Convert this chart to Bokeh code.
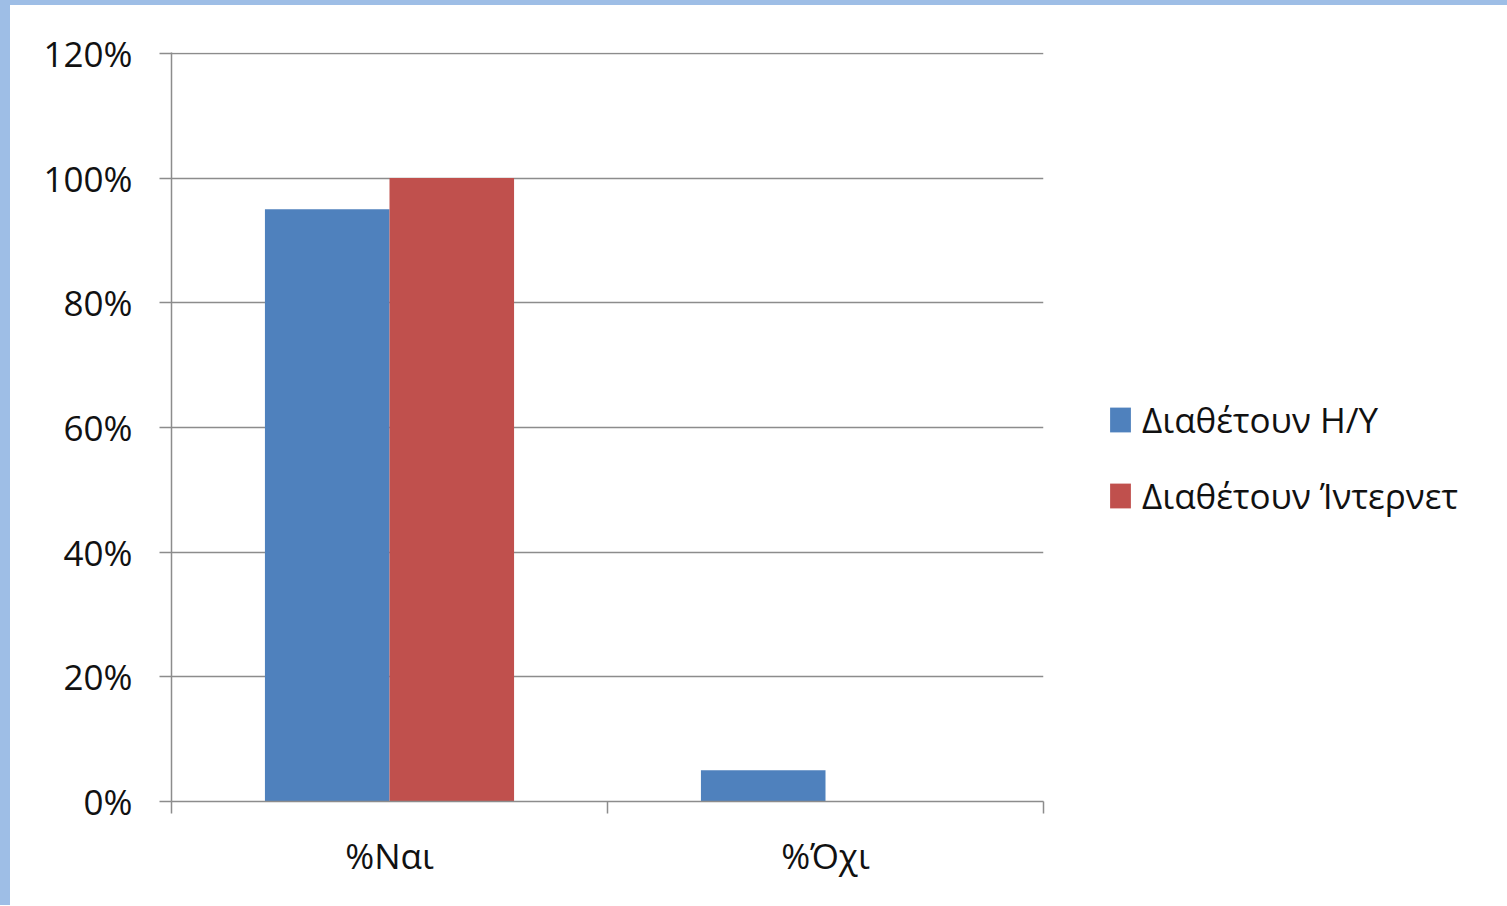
from bokeh.plotting import figure
from bokeh.models import (ColumnDataSource, FixedTicker, NumeralTickFormatter,
                          Legend, LegendItem, Range1d)
from bokeh.transform import dodge
from bokeh.embed import file_html
from bokeh.resources import INLINE

categories = ["%Ναι", "%Όχι"]
series_names = ["Διαθέτουν Η/Υ", "Διαθέτουν Ίντερνετ"]
pc_values = [0.95, 0.05]
internet_values = [1.00, 0.00]
y_ticks = [0, 0.2, 0.4, 0.6, 0.8, 1.0, 1.2]

BLUE = "#4F81BD"
RED = "#C0504D"
GRID = "#8c8c8c"
FONT = "Open Sans"
FS = "35px"

x_centers = [i + 0.5 for i in range(len(categories))]
src = ColumnDataSource(dict(x=x_centers, pc=pc_values, net=internet_values))

p = figure(frame_width=872, frame_height=749, output_backend="svg", toolbar_location=None,
           x_range=Range1d(0, len(categories)), y_range=Range1d(0, 1.2015),
           min_border_left=161, min_border_right=0, min_border_top=47,
           min_border_bottom=104)
p.styles = {"border-left": "10px solid #9ebee6", "border-top": "5px solid #9ebee6"}
p.outline_line_color = None
p.background_fill_color = "white"
p.border_fill_color = "white"

bw = 0.2857
r1 = p.vbar(x=dodge("x", -bw / 2, range=p.x_range), top="pc", width=bw,
            source=src, fill_color=BLUE, line_color=None)
r2 = p.vbar(x=dodge("x", bw / 2, range=p.x_range), top="net", width=bw,
            source=src, fill_color=RED, line_color=None)

# x axis
p.xaxis.ticker = FixedTicker(ticks=x_centers, minor_ticks=list(range(len(categories) + 1)))
p.xaxis.major_label_overrides = {x: c for x, c in zip(x_centers, categories)}
p.xaxis.major_tick_line_color = None
p.xaxis.major_tick_out = 0
p.xaxis.major_tick_in = 0
p.xaxis.minor_tick_out = 12
p.xaxis.minor_tick_in = 0
p.xaxis.minor_tick_line_color = GRID
p.xaxis.minor_tick_line_width = 1.5
p.xaxis.axis_line_color = GRID
p.xaxis.axis_line_width = 1.5
p.xaxis.major_label_standoff = 18
p.xaxis.major_label_text_font = FONT
p.xaxis.major_label_text_font_size = FS
p.xaxis.major_label_text_color = "#111111"
p.xgrid.grid_line_color = None

# y axis
p.yaxis.ticker = FixedTicker(ticks=y_ticks, minor_ticks=[])
p.yaxis.formatter = NumeralTickFormatter(format="0%")
p.yaxis.major_tick_out = 12
p.yaxis.major_tick_in = 0
p.yaxis.major_tick_line_color = GRID
p.yaxis.major_tick_line_width = 1.5
p.yaxis.minor_tick_line_color = None
p.yaxis.axis_line_color = GRID
p.yaxis.axis_line_width = 1.5
p.yaxis.major_label_standoff = 27
p.yaxis.major_label_text_font = FONT
p.yaxis.major_label_text_font_size = FS
p.yaxis.major_label_text_color = "#111111"
p.ygrid.grid_line_color = GRID
p.ygrid.grid_line_width = 1.5

legend = Legend(items=[LegendItem(label=series_names[0], renderers=[r1]),
                       LegendItem(label=series_names[1], renderers=[r2])],
                location=(64, 282))
legend.border_line_color = None
legend.background_fill_alpha = 0
legend.padding = 0
legend.margin = 0
legend.glyph_width = 26
legend.glyph_height = 31
legend.label_standoff = 9
legend.spacing = 29
legend.label_text_font = FONT
legend.label_text_font_size = FS
legend.label_text_color = "#111111"
legend.label_height = 36
p.add_layout(legend, "right")

open("out.html", "w").write(file_html(p, INLINE))
